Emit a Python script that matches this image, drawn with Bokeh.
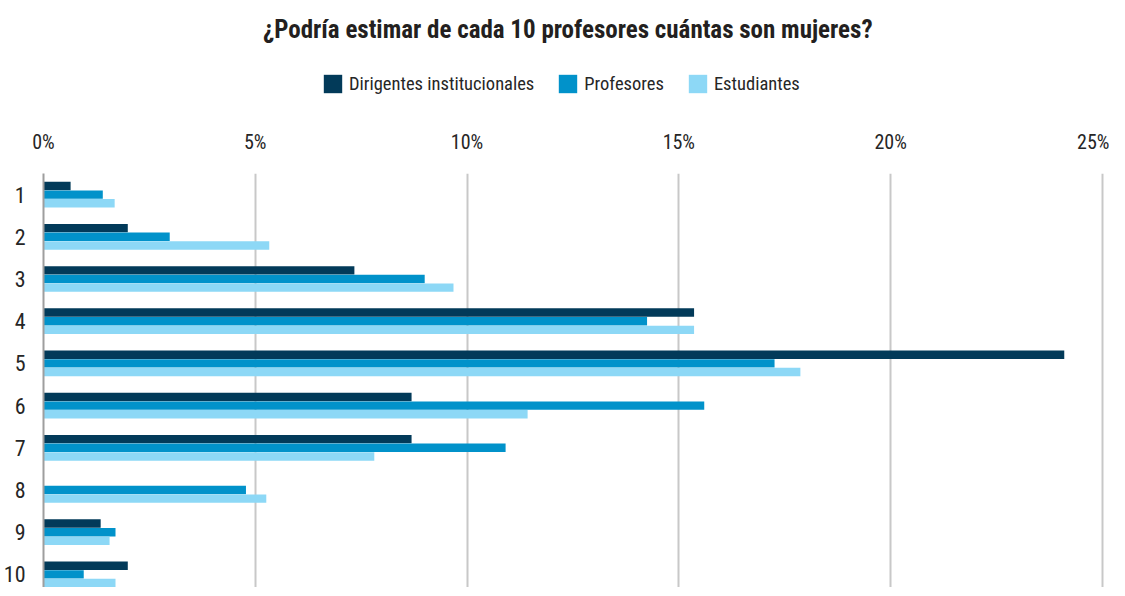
from bokeh.plotting import figure
from bokeh.layouts import column
from bokeh.models import Range1d, Legend, LegendItem, ColumnDataSource, FixedTicker, Label
from bokeh.transform import dodge
from bokeh.embed import file_html
from bokeh.resources import INLINE

categories = ["1", "2", "3", "4", "5", "6", "7", "8", "9", "10"]
series_names = ["Dirigentes institucionales", "Profesores", "Estudiantes"]
dirigentes = [0.64, 1.99, 7.34, 15.36, 24.10, 8.69, 8.69, 0.0, 1.35, 1.99]
profesores = [1.40, 2.98, 9.00, 14.25, 17.26, 15.60, 10.91, 4.78, 1.70, 0.95]
estudiantes = [1.68, 5.33, 9.68, 15.36, 17.87, 11.43, 7.81, 5.26, 1.56, 1.70]
x_ticks = [0, 5, 10, 15, 20, 25]
x_tick_labels = ["0%", "5%", "10%", "15%", "20%", "25%"]
title_text = "¿Podría estimar de cada 10 profesores cuántas son mujeres?"

FONT = "Roboto Condensed"
TEXT = "#262626"
colors = ["#023A59", "#0192CA", "#8DD8F6"]

W = 1109
HEADER_H = 123
FRAME_H = 414

# category slots (0 = first category, at the top)
slots = list(range(len(categories)))
source = ColumnDataSource(dict(slot=slots, cat=categories, d=dirigentes, p=profesores, e=estudiantes))

# ---------- header: title + legend ----------
h = figure(width=W, height=HEADER_H, x_range=Range1d(0, W), y_range=Range1d(0, HEADER_H),
           output_backend="svg", toolbar_location=None,
           x_axis_location=None, y_axis_location=None,
           min_border_left=0, min_border_right=0, min_border_top=0, min_border_bottom=0)
h.grid.visible = False
h.outline_line_color = None

h.add_layout(Label(x=548, y=HEADER_H - 29, text=title_text, text_align="center",
                   text_baseline="middle", text_font=FONT, text_font_size="25px",
                   text_font_style="bold", text_color="#231F20"))

keys = ["d", "p", "e"]
swatches = [h.hbar(y="slot", right=k, left=0, height=0.2, source=source, color=c,
                   line_color=None, visible=False) for k, c in zip(keys, colors)]

legend = Legend(
    items=[LegendItem(label=n, renderers=[r]) for n, r in zip(series_names, swatches)],
    orientation="horizontal", location=(278, 28),
    glyph_width=23, glyph_height=23, label_standoff=5, spacing=22,
    label_text_font=FONT, label_text_font_size="18.5px", label_text_color=TEXT,
    label_height=23, border_line_color=None, background_fill_alpha=0, padding=0, margin=0,
    inactive_fill_alpha=0,
)
h.add_layout(legend, "center")

# ---------- main chart ----------
pitch_px = 42.2
top = -0.5
bottom = top + FRAME_H / pitch_px

p = figure(
    y_range=Range1d(bottom, top),
    x_range=Range1d(0, 25.05),
    width=W, height=50 + FRAME_H,
    x_axis_location="above",
    output_backend="svg", toolbar_location=None,
    min_border_left=41, min_border_right=5, min_border_bottom=0, min_border_top=50,
)

bar_h = 0.2
p.hbar(y=dodge("slot", -0.205), right="d", left=0, height=bar_h,
       source=source, color=colors[0], line_color=None)
p.hbar(y=dodge("slot", 0.0), right="p", left=0, height=bar_h,
       source=source, color=colors[1], line_color=None)
p.hbar(y=dodge("slot", 0.205), right="e", left=0, height=bar_h,
       source=source, color=colors[2], line_color=None)

xa = p.xaxis[0]
xa.ticker = FixedTicker(ticks=x_ticks)
xa.major_label_overrides = {t: l for t, l in zip(x_ticks, x_tick_labels)}
xa.axis_line_color = None
xa.major_tick_line_color = None
xa.major_tick_out = 0
xa.major_tick_in = 0
xa.minor_tick_line_color = None
xa.major_label_standoff = 20
xa.major_label_text_font = FONT
xa.major_label_text_font_size = "20px"
xa.major_label_text_color = TEXT

ya = p.yaxis[0]
ya.ticker = FixedTicker(ticks=slots)
ya.major_label_overrides = {s: c for s, c in zip(slots, categories)}
ya.axis_line_color = "#9E9E9E"
ya.axis_line_width = 2
ya.major_tick_line_color = None
ya.minor_tick_line_color = None
ya.major_tick_out = 0
ya.major_tick_in = 0
ya.major_label_standoff = 18
ya.major_label_text_font = FONT
ya.major_label_text_font_size = "22px"
ya.major_label_text_color = TEXT

p.xgrid.grid_line_color = "#C8C8C8"
p.xgrid.grid_line_width = 2
p.xgrid.ticker = FixedTicker(ticks=x_ticks[1:])
p.ygrid.grid_line_color = None
p.outline_line_color = None

layout = column(h, p, spacing=0)
open("out.html", "w").write(file_html(layout, INLINE))
